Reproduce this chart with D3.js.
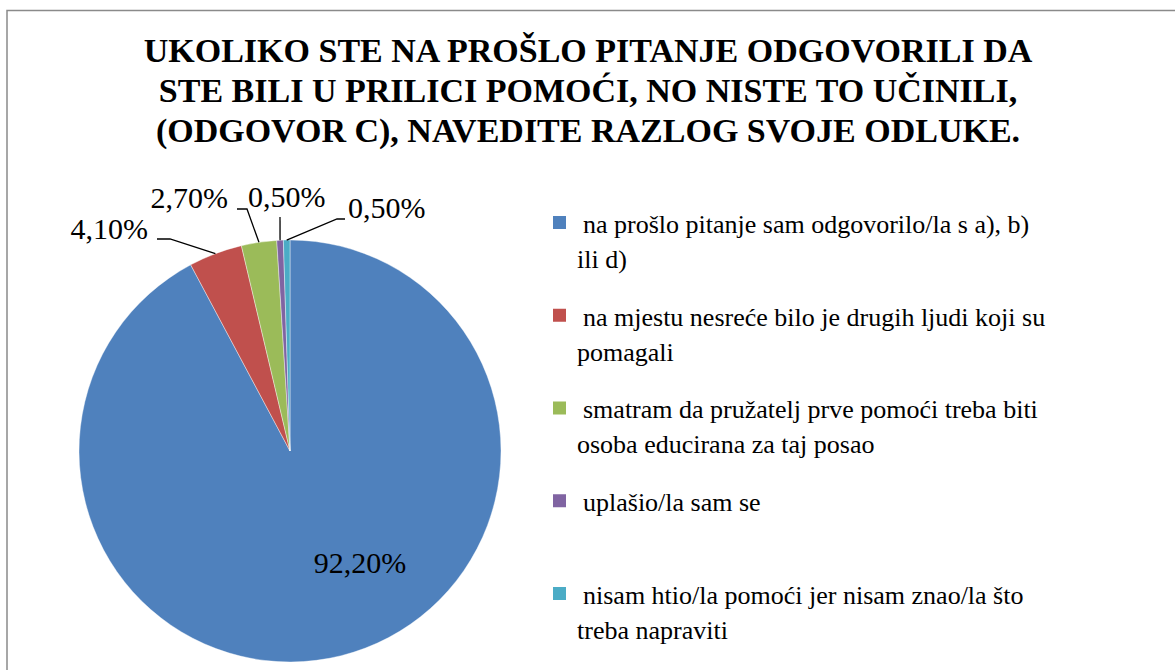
<!DOCTYPE html>
<html>
<head>
<meta charset="UTF-8">
<script src="https://cdnjs.cloudflare.com/ajax/libs/d3/7.8.5/d3.min.js"></script>
<style>
  body { margin: 0; background: #fff; }
  #wrap { position: relative; width: 1175px; height: 670px; overflow: hidden; }
  #wrap svg { position: absolute; left: 0; top: 0; }
  .lbl { position: absolute; white-space: pre; font-family: 'Liberation Serif'; color: #000; line-height: 1; }
</style>
</head>
<body>
<div id="wrap"><svg width="1175" height="670"></svg></div>
<script>
// data
var categories = [
    "na prošlo pitanje sam odgovorilo/la s a), b)\nili d)",
    "na mjestu nesreće bilo je drugih ljudi koji su\npomagali",
    "smatram da pružatelj prve pomoći treba biti\nosoba educirana za taj posao",
    "uplašio/la sam se",
    "nisam htio/la pomoći jer nisam znao/la što\ntreba napraviti"
];
var values = [92.2, 4.1, 2.7, 0.5, 0.5];
var valueLabels = ["92,20%", "4,10%", "2,70%", "0,50%", "0,50%"];
var colors = ["#4f81bd", "#c0504d", "#9bbb59", "#8064a2", "#4bacc6"];
var titleLines = [
    "UKOLIKO STE NA PROŠLO PITANJE ODGOVORILI DA",
    "STE BILI U PRILICI POMOĆI, NO NISTE TO UČINILI,",
    "(ODGOVOR C), NAVEDITE RAZLOG SVOJE ODLUKE."
];

var wrap = d3.select("#wrap");
var svg = wrap.select("svg");

// text placed by its baseline; anchor = start | middle | end
function addText(x, baseline, size, str, anchor, bold) {
    var shift = anchor === "middle" ? "-50%" : anchor === "end" ? "-100%" : "0";
    // with line-height 1 the baseline sits about 0.891em below the top for this face
    return wrap.append("div")
        .attr("class", "lbl")
        .style("left", x + "px")
        .style("top", (baseline - size * 0.891) + "px")
        .style("font-size", size + "px")
        .style("font-weight", bold ? "bold" : "normal")
        .style("transform", "translateX(" + shift + ")")
        .text(str);
}

// outer frame (only top and left edges are visible in the picture)
svg.append("rect")
    .attr("x", 7).attr("y", 10.5)
    .attr("width", 1300).attr("height", 800)
    .attr("fill", "none")
    .attr("stroke", "#8a8a8a")
    .attr("stroke-width", 1.5);

// title
titleLines.forEach(function (t, i) {
    addText(588, 64 + i * 40, 34, t, "middle", true);
});

// pie
var cx = 290, cy = 451, radius = 211;
var pie = d3.pie().sort(null).value(function (d) { return d; });
var arcs = pie(values);
var arc = d3.arc().innerRadius(0).outerRadius(radius);
var outer = d3.arc().innerRadius(radius).outerRadius(radius);

var g = svg.append("g").attr("transform", "translate(" + cx + "," + cy + ")");

g.selectAll("path")
    .data(arcs)
    .enter().append("path")
    .attr("d", arc)
    .attr("fill", function (d, i) { return colors[i]; })
    .attr("stroke", "#fff")
    .attr("stroke-width", 0.4);

// label placement, relative to pie centre (manual like the original)
// x,y = text anchor point; elbow = [x0, x1, y] horizontal piece of leader
var labelPos = [
    {x: 70, y: 124, anchor: "middle", elbow: null},
    {x: -142, y: -210, anchor: "end", elbow: [-133, -120, -212]},
    {x: -62, y: -241, anchor: "end", elbow: [-53, -43, -242]},
    {x: -42, y: -242, anchor: "start", elbow: [-10, -10, -234]},
    {x: 58, y: -231, anchor: "start", elbow: [55, 47, -232]}
];

// leader lines
g.selectAll("polyline")
    .data(arcs.filter(function (d, i) { return labelPos[i].elbow; }))
    .enter().append("polyline")
    .attr("points", function (d) {
        var p = labelPos[d.index].elbow;
        var c = outer.centroid(d);
        return [[p[0], p[2]], [p[1], p[2]], c].join(" ");
    })
    .attr("fill", "none")
    .attr("stroke", "#000")
    .attr("stroke-width", 1.3);

arcs.forEach(function (d) {
    var p = labelPos[d.index];
    addText(cx + p.x, cy + p.y, 30, valueLabels[d.index], p.anchor, false);
});

// legend
var legendY = d3.scalePoint()
    .domain(d3.range(categories.length))
    .range([235, 606]);

categories.forEach(function (c, i) {
    var y0 = legendY(i);
    svg.append("rect")
        .attr("x", 553).attr("y", y0 - 19)
        .attr("width", 13).attr("height", 13)
        .attr("fill", colors[i]);
    c.split("\n").forEach(function (line, j) {
        addText(j === 0 ? 583 : 577, y0 + j * 35, 26, line, "start", false);
    });
});
</script>
</body>
</html>
